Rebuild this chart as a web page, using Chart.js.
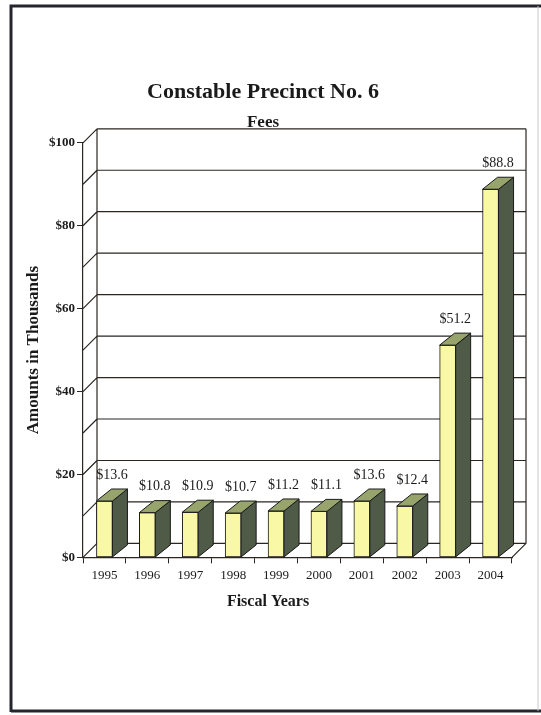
<!DOCTYPE html>
<html>
<head>
<meta charset="utf-8">
<script src="https://cdn.jsdelivr.net/npm/chart.js@4.4.1/dist/chart.umd.min.js"></script>
<style>
  html,body{margin:0;padding:0;background:#fff;}
  #wrap{width:541px;height:715px;position:relative;}
</style>
</head>
<body>
<div id="wrap"><canvas id="c" width="541" height="715"></canvas></div>
<script>
const years = ['1995','1996','1997','1998','1999','2000','2001','2002','2003','2004'];
const fees = [13.6, 10.8, 10.9, 10.7, 11.2, 11.1, 13.6, 12.4, 51.2, 88.8];
const yTicks = [0, 20, 40, 60, 80, 100];
const gridValues = [0, 10, 20, 30, 40, 50, 60, 70, 80, 90, 100];
const chartTitle = 'Constable Precinct No. 6';
const chartSubtitle = 'Fees';
const yTitle = 'Amounts in Thousands';
const xTitle = 'Fiscal Years';

const SERIF = '"Liberation Serif", "Times New Roman", "DejaVu Serif", serif';
const WALL = {dx: 14, dy: -14};
const BAR3D = {dx: 15, dy: -12};
const LINE = '#2b2622';

const frame = {
  id: 'frame',
  beforeDraw(chart) {
    const ctx = chart.ctx;
    ctx.save();
    ctx.fillStyle = '#ffffff';
    ctx.fillRect(0, 0, chart.width, chart.height);
    ctx.strokeStyle = '#25252e';
    ctx.lineWidth = 3;
    ctx.beginPath();
    ctx.moveTo(11, 712); ctx.lineTo(11, 6); ctx.lineTo(541, 6);
    ctx.moveTo(11, 711); ctx.lineTo(541, 711);
    ctx.stroke();
    ctx.strokeStyle = '#c8c8c8';
    ctx.lineWidth = 1;
    ctx.beginPath(); ctx.moveTo(538, 6); ctx.lineTo(538, 711); ctx.stroke();
    ctx.restore();
  }
};

const walls = {
  id: 'walls',
  beforeDatasetsDraw(chart) {
    const ctx = chart.ctx, ys = chart.scales.y, a = chart.chartArea;
    ctx.save();
    ctx.strokeStyle = LINE;
    ctx.lineWidth = 1.2;
    ctx.beginPath();
    gridValues.forEach(v => {
      const py = ys.getPixelForValue(v);
      ctx.moveTo(a.left, py); ctx.lineTo(a.left + WALL.dx, py + WALL.dy);
      ctx.moveTo(a.left + WALL.dx, py + WALL.dy); ctx.lineTo(a.right + WALL.dx, py + WALL.dy);
    });
    const top = ys.getPixelForValue(100), bot = ys.getPixelForValue(0);
    ctx.moveTo(a.left + WALL.dx, top + WALL.dy); ctx.lineTo(a.left + WALL.dx, bot + WALL.dy);
    ctx.moveTo(a.right + WALL.dx, top + WALL.dy); ctx.lineTo(a.right + WALL.dx, bot + WALL.dy);
    ctx.moveTo(a.right, bot); ctx.lineTo(a.right + WALL.dx, bot + WALL.dy);
    ctx.stroke();
    ctx.restore();
  }
};

const bars3d = {
  id: 'bars3d',
  afterDatasetsDraw(chart) {
    const ctx = chart.ctx;
    const meta = chart.getDatasetMeta(0);
    ctx.save();
    ctx.strokeStyle = '#1a1a1a';
    ctx.lineWidth = 1;
    ctx.lineJoin = 'round';
    meta.data.forEach((bar, i) => {
      const p = bar.getProps(['x', 'y', 'base', 'width'], true);
      const l = p.x - p.width / 2, r = p.x + p.width / 2;
      // side face
      ctx.fillStyle = '#4f5a47';
      ctx.beginPath();
      ctx.moveTo(r, p.y); ctx.lineTo(r + BAR3D.dx, p.y + BAR3D.dy);
      ctx.lineTo(r + BAR3D.dx, p.base + BAR3D.dy); ctx.lineTo(r, p.base);
      ctx.closePath(); ctx.fill(); ctx.stroke();
      // top face
      ctx.fillStyle = '#97a56c';
      ctx.beginPath();
      ctx.moveTo(l, p.y); ctx.lineTo(l + BAR3D.dx, p.y + BAR3D.dy);
      ctx.lineTo(r + BAR3D.dx, p.y + BAR3D.dy); ctx.lineTo(r, p.y);
      ctx.closePath(); ctx.fill(); ctx.stroke();
      // value label
      ctx.fillStyle = '#1a1a1a';
      ctx.font = '14px ' + SERIF;
      ctx.textAlign = 'center';
      ctx.textBaseline = 'middle';
      ctx.fillText('$' + fees[i].toFixed(1), p.x + BAR3D.dx / 2, p.y - 26);
    });
    // x axis title
    ctx.font = 'bold 16px ' + SERIF;
    ctx.textAlign = 'center';
    ctx.textBaseline = 'middle';
    ctx.fillText(xTitle, 268, 602);
    ctx.restore();
  }
};

new Chart(document.getElementById('c'), {
  type: 'bar',
  data: {
    labels: years,
    datasets: [{
      data: fees,
      backgroundColor: '#f8f8a6',
      borderColor: '#1a1a1a',
      borderWidth: 1,
      borderSkipped: false,
      barThickness: 16
    }]
  },
  options: {
    responsive: false,
    animation: false,
    devicePixelRatio: 1,
    layout: {padding: {left: 14, right: 29, top: 0, bottom: 128}},
    plugins: {
      legend: {display: false},
      tooltip: {enabled: false},
      title: {
        display: true, text: chartTitle, color: '#1a1a1a',
        font: {family: SERIF, size: 22, weight: 'bold'},
        padding: {top: 79, bottom: 0}
      },
      subtitle: {
        display: true, text: chartSubtitle, color: '#1a1a1a',
        font: {family: SERIF, size: 17, weight: 'bold'},
        padding: {top: 7, bottom: 10}
      }
    },
    scales: {
      x: {
        grid: {display: true, drawOnChartArea: false, drawTicks: true, tickLength: 6, color: LINE, offset: true},
        border: {display: true, color: LINE, width: 1.2},
        ticks: {color: '#1a1a1a', font: {family: SERIF, size: 13}, padding: 4, maxRotation: 0}
      },
      y: {
        min: 0, max: 100,
        afterFit(scale) { scale.width = 69; },
        afterBuildTicks(scale) { scale.ticks = yTicks.map(v => ({value: v})); },
        grid: {display: true, drawOnChartArea: false, drawTicks: true, tickLength: 6, color: LINE},
        border: {display: true, color: LINE, width: 1.2},
        ticks: {
          color: '#1a1a1a', padding: 2,
          font: {family: SERIF, size: 13, weight: 'bold'},
          callback: v => '$' + v
        },
        title: {
          display: true, text: yTitle, color: '#1a1a1a',
          font: {family: SERIF, size: 17, weight: 'bold'},
          padding: {top: 9, bottom: 0}
        }
      }
    }
  },
  plugins: [frame, walls, bars3d]
});
</script>
</body>
</html>
